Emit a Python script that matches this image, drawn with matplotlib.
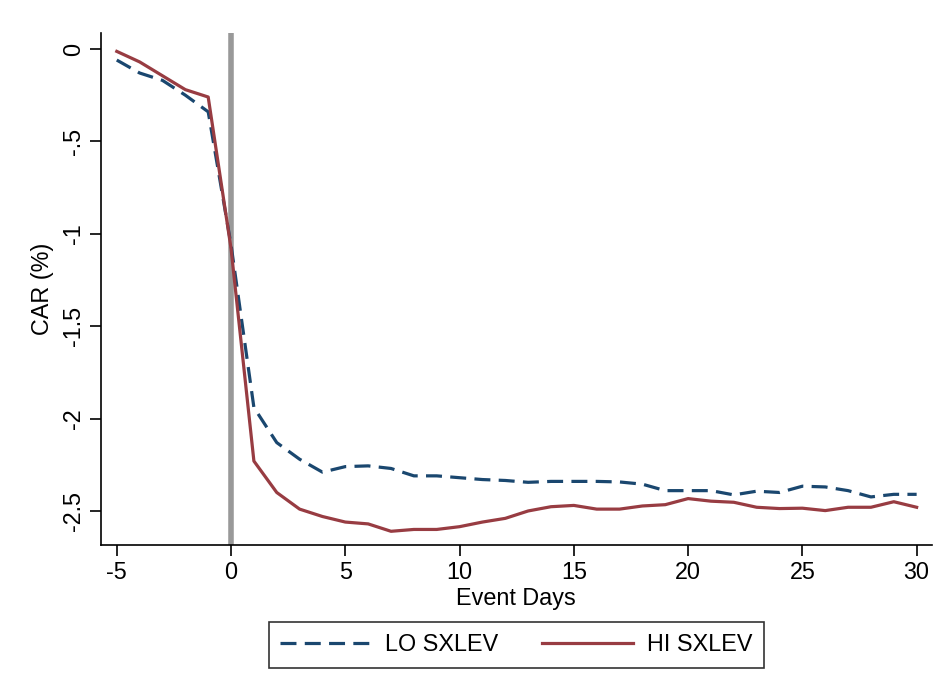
import matplotlib
matplotlib.use("Agg")
import matplotlib.pyplot as plt

# event window and cumulative abnormal returns (%)
days = list(range(-5, 31))
lo_sxlev = [-0.06, -0.13, -0.17, -0.25, -0.34, -1.06,
            -1.94, -2.13, -2.22, -2.29, -2.26, -2.256, -2.27, -2.31, -2.31, -2.32,
            -2.33, -2.335, -2.345, -2.34, -2.34, -2.34, -2.343, -2.355, -2.39, -2.39,
            -2.39, -2.413, -2.393, -2.40, -2.366, -2.37, -2.39, -2.424, -2.41, -2.41]
hi_sxlev = [-0.013, -0.07, -0.145, -0.22, -0.26, -1.08,
            -2.23, -2.40, -2.49, -2.53, -2.56, -2.57, -2.61, -2.60, -2.60, -2.585,
            -2.56, -2.54, -2.50, -2.477, -2.47, -2.49, -2.49, -2.473, -2.466, -2.433,
            -2.447, -2.453, -2.48, -2.487, -2.485, -2.498, -2.48, -2.48, -2.45, -2.48]

xticks = [-5, 0, 5, 10, 15, 20, 25, 30]
yticks = [0, -0.5, -1, -1.5, -2, -2.5]
ytick_labels = ["0", "-.5", "-1", "-1.5", "-2", "-2.5"]

plt.rcParams['font.family'] = ['Liberation Sans', 'DejaVu Sans']
fs = 16.8

fig = plt.figure(figsize=(9.44, 6.96), dpi=100)
ax = fig.add_axes([0.107, 0.217, 0.88, 0.736])

ax.axvline(0, color='#999999', linewidth=4, zorder=1)
ax.plot(days, lo_sxlev, color='#1a476f', linestyle=(0, (5, 2.6)), linewidth=2.3,
        label='LO SXLEV', zorder=3)
ax.plot(days, hi_sxlev, color='#983c42', linestyle='-', linewidth=2.3,
        label='HI SXLEV', zorder=3)

ax.set_xlim(-5.69, 30.66)
ax.set_ylim(-2.684, 0.088)
ax.set_xticks(xticks)
ax.set_xticklabels([str(t) for t in xticks], fontsize=fs)
ax.set_yticks(yticks)
ax.set_yticklabels(ytick_labels, fontsize=fs, rotation=90, va='center')
ax.tick_params(direction='out', length=8, width=1.2, color='black')
for side in ['top', 'right']:
    ax.spines[side].set_visible(False)
for side in ['left', 'bottom']:
    ax.spines[side].set_linewidth(1.2)

ax.set_xlabel('Event Days', fontsize=fs, labelpad=2)
ax.set_ylabel('CAR (%)', fontsize=fs, labelpad=6)

leg = fig.legend(loc='center', bbox_to_anchor=(0.547, 0.0733), ncol=2, fontsize=fs,
                 frameon=True, fancybox=False, edgecolor='black', handlelength=3.9,
                 columnspacing=1.85, borderpad=0.5, handletextpad=0.6,
                 borderaxespad=0)
leg.get_frame().set_linewidth(1.2)

fig.savefig('out.png', dpi=100)
